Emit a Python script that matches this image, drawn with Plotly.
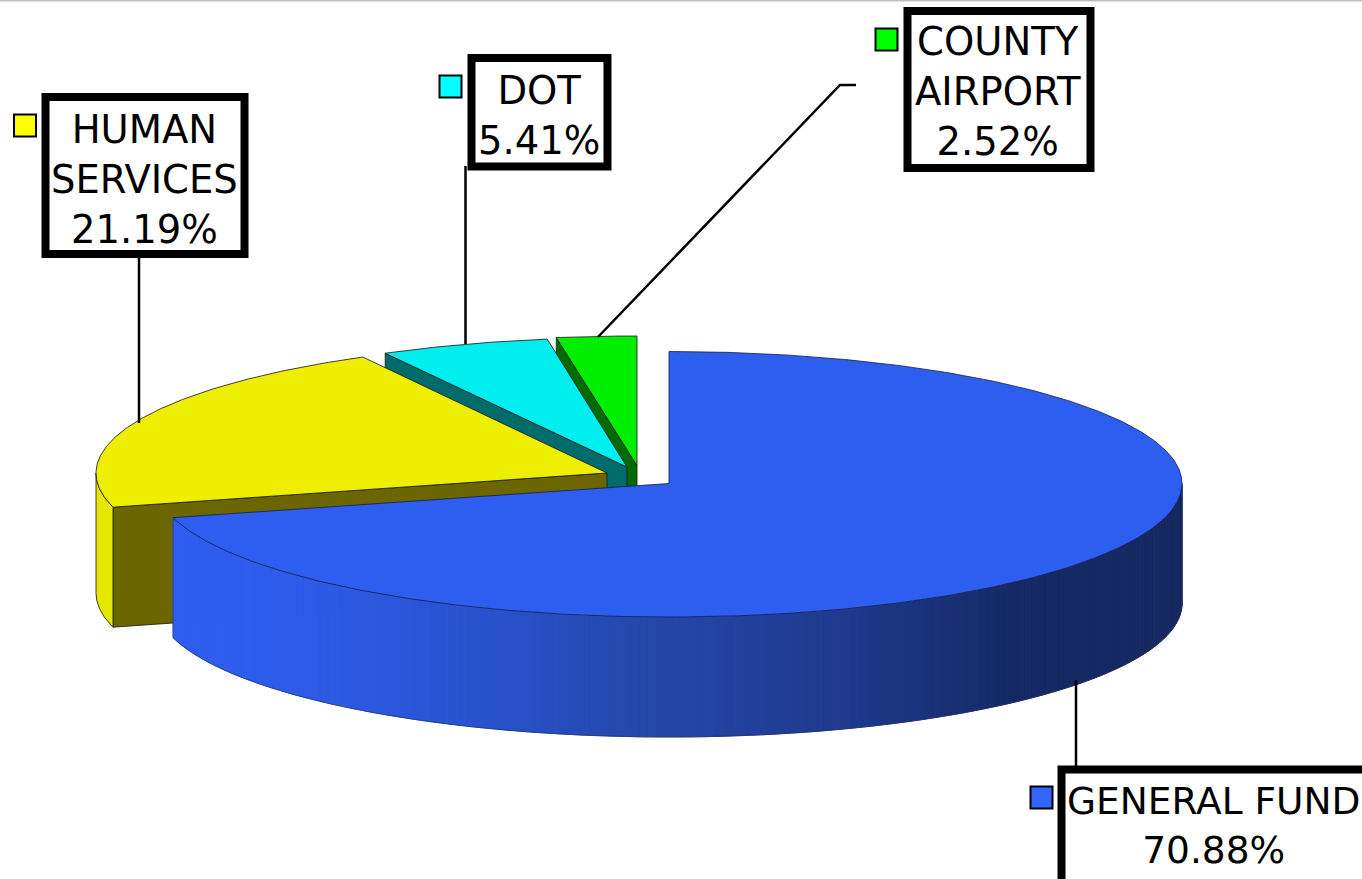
import math
import plotly.graph_objects as go

# ---- data ----
categories = ["GENERAL FUND", "HUMAN SERVICES", "DOT", "COUNTY AIRPORT"]
shares = [70.88, 21.19, 5.41, 2.52]
label_lines = ["GENERAL FUND<br>70.88%", "HUMAN<br>SERVICES<br>21.19%", "DOT<br>5.41%", "COUNTY<br>AIRPORT<br>2.52%"]

# ---- style / geometry (pixel frame of the picture) ----
W, H = 1362, 879
RY_FRONT, DEPTH = 133.5, 120
rx_slice = [513, 511, 506, 512]
apex = [(669, 483.5), (607, 473), (627, 467), (637, 465.5)]
ry_back = [132, 132, 129.5, 129.5]
top_col = ["#2e5ef0", "#eeee00", "#00eeee", "#00ee00"]
face_col = ["#2e5ef0", "#6b6600", "#006b6b", "#006b00"]
wall_col = [None, "#e6e600", None, None]
key_col = ["#3366ff", "#ffff00", "#00ffff", "#00ff00"]
key_pos = [(1041.5, 797.5), (25, 125.5), (450.5, 86.5), (886.5, 39.5)]
box = [(1061.5, 769.5, 1375, 895), (45.5, 97, 244.5, 254), (471.5, 58, 607.5, 166.5), (907.5, 11, 1090.5, 168)]
text_pos = [(1213, 825), (144, 179), (539, 115), (998, 91)]
leaders = [([1076, 1076], [680, 766]), ([139, 139], [258, 423]), ([465.5, 465.5], [166, 344]),
           ([856, 840, 598], [85, 85, 337])]
EDGE = "rgba(30,30,30,0.85)"
FONT = "DejaVu Sans"
FSIZE = [37.5, 38.5, 38.5, 38.5]


def rim(i, deg, drop=0.0):
    t = math.radians(deg)
    ax, ay = apex[i]
    ry = ry_back[i] if math.cos(t) > 0 else RY_FRONT
    return ax + rx_slice[i] * math.sin(t), ay - ry * math.cos(t) + drop


def arc(i, a, b, drop=0.0, step=0.5):
    n = max(2, int(abs(b - a) / step))
    pts = [rim(i, a + (b - a) * k / n, drop) for k in range(n + 1)]
    return [p[0] for p in pts], [p[1] for p in pts]


def poly(fig, xs, ys, fill, line=EDGE, lw=1):
    fig.add_trace(go.Scatter(x=xs, y=ys, mode="lines", fill="toself" if fill else "none",
                             fillcolor=fill, line=dict(color=line, width=lw),
                             hoverinfo="skip", showlegend=False))


def blue_shade(x):
    stops = [(175, (46, 94, 240)), (300, (46, 92, 232)), (450, (42, 84, 212)), (640, (37, 72, 172)),
             (850, (31, 58, 140)), (1010, (21, 42, 102)), (1182, (23, 41, 96))]
    for (x0, c0), (x1, c1) in zip(stops, stops[1:]):
        if x <= x1:
            f = max(0, (x - x0) / (x1 - x0))
            return "rgb(%d,%d,%d)" % tuple(c0[j] + (c1[j] - c0[j]) * f for j in range(3))
    return "rgb(23,41,96)"


# cumulative angles from the shares (clockwise from 12 o'clock)
total = sum(shares)
start, acc = [], 0.0
for s in shares:
    start.append(acc)
    acc += s / total * 360
end = [start[i] + shares[i] / total * 360 for i in range(4)]

fig = go.Figure()

# back to front: airport, DOT, human services, general fund
for i in (3, 2, 1):
    ax, ay = apex[i]
    rx0, ry0 = rim(i, start[i])
    poly(fig, [ax, rx0, rx0, ax, ax], [ay, ry0, ry0 + DEPTH, ay + DEPTH, ay], face_col[i])
    if wall_col[i]:
        a, b = start[i], 270.0
        x1, y1 = arc(i, a, b)
        x2, y2 = arc(i, b, a, DEPTH)
        poly(fig, x1 + x2 + [x1[0]], y1 + y2 + [y1[0]], wall_col[i])
    xa, ya = arc(i, start[i], end[i])
    poly(fig, [ax] + xa + [ax], [ay] + ya + [ay], top_col[i])

# general fund: shaded wall, then top
N = 150
a0, a1 = 90.0, end[0]
for k in range(N):
    a = a0 + (a1 - a0) * k / N
    b = a0 + (a1 - a0) * (k + 1) / N
    x1, y1 = arc(0, a, b)
    x2, y2 = arc(0, b, a, DEPTH)
    col = blue_shade((x1[0] + x1[-1]) / 2)
    poly(fig, x1 + x2 + [x1[0]], y1 + y2 + [y1[0]], col, line=col, lw=1)
xo, yo = arc(0, a0, a1, DEPTH)
xl, yl = rim(0, a1)
poly(fig, xo + [xl], yo + [yl], None, line="rgba(40,50,90,0.6)", lw=1)
ax, ay = apex[0]
xa, ya = arc(0, start[0], end[0])
poly(fig, [ax] + xa + [ax], [ay] + ya + [ay], top_col[0], line="rgba(20,30,80,0.8)", lw=1)

# leader lines
for lx, ly in leaders:
    fig.add_trace(go.Scatter(x=lx, y=ly, mode="lines", line=dict(color="black", width=2.5),
                             hoverinfo="skip", showlegend=False))

# legend keys
fig.add_trace(go.Scatter(x=[p[0] for p in key_pos], y=[p[1] for p in key_pos], mode="markers",
                         marker=dict(symbol="square", size=22, color=key_col, line=dict(color="black", width=2)),
                         hoverinfo="skip", showlegend=False))

shapes = [dict(type="rect", xref="x", yref="y", x0=b[0], y0=b[1], x1=b[2], y1=b[3],
               fillcolor="white", line=dict(color="black", width=8)) for b in box]
shapes.append(dict(type="line", xref="paper", yref="paper", x0=0, x1=1, y0=0.9995, y1=0.9995,
                   line=dict(color="#bdbdbd", width=2)))

annotations = [dict(x=text_pos[i][0], y=text_pos[i][1], xref="x", yref="y", text=label_lines[i],
                    showarrow=False, align="center", xanchor="center", yanchor="middle",
                    font=dict(family=FONT, size=FSIZE[i], color="black")) for i in range(4)]

fig.update_layout(width=W, height=H, margin=dict(l=0, r=0, t=0, b=0), showlegend=False,
                  paper_bgcolor="white", plot_bgcolor="white", shapes=shapes, annotations=annotations,
                  xaxis=dict(range=[0, W], visible=False, fixedrange=True),
                  yaxis=dict(range=[H, 0], visible=False, fixedrange=True))

fig.write_html("out.html", config={"displayModeBar": False},
               post_script="document.body.style.margin='0';document.body.style.overflow='hidden';")
